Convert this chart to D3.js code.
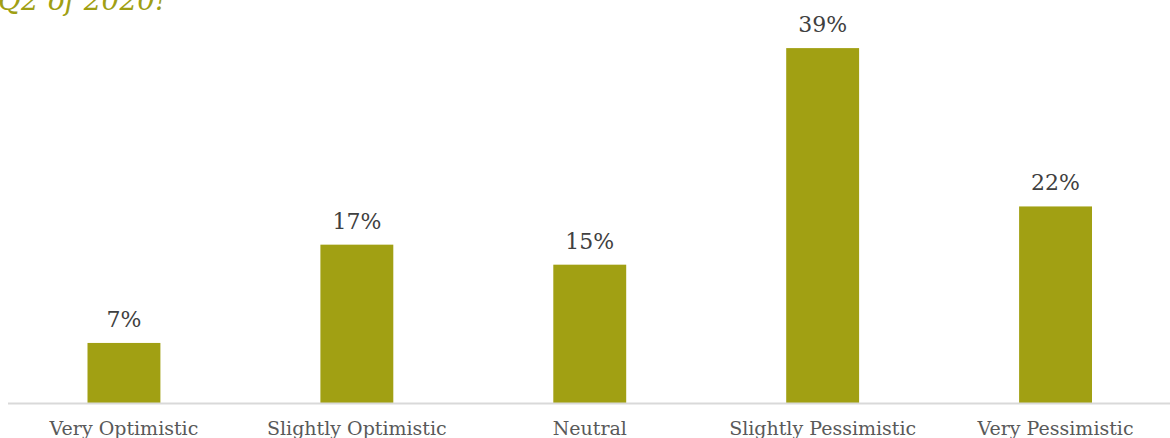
<!DOCTYPE html>
<html><head><meta charset="utf-8">
<script src="https://cdn.jsdelivr.net/npm/d3@7"></script>
<style>html,body{margin:0;padding:0;background:#fff;overflow:hidden}</style>
</head><body>
<svg id="chart" width="1170" height="438"></svg>
<script>
const categories = ["Very Optimistic","Slightly Optimistic","Neutral","Slightly Pessimistic","Very Pessimistic"];
const values = [6.6, 17.4, 15.2, 39.0, 21.6];
const valueLabels = ["7%","17%","15%","39%","22%"];
const titleText = "Q2 of 2020!";

const svg = d3.select("#chart");
const baseY = 403;
const x = d3.scaleBand().domain(categories).range([7.5, 1172]).paddingInner(0.687).paddingOuter(0.3435);
const y = d3.scaleLinear().domain([0, 40]).range([baseY, 39]);
const font = "'DejaVu Serif', Georgia, serif";

svg.append("text").attr("x", -2).attr("y", 10)
  .attr("font-family", font).attr("font-style", "italic").attr("font-size", 28)
  .attr("fill", "#a09f14").text(titleText);

svg.append("g").selectAll("rect").data(categories).join("rect")
  .attr("x", d => x(d)).attr("width", x.bandwidth())
  .attr("y", (d,i) => y(values[i])).attr("height", (d,i) => baseY - y(values[i]))
  .attr("fill", "#a1a013");

svg.append("line").attr("x1", 8).attr("x2", 1170).attr("y1", baseY + 0.5).attr("y2", baseY + 0.5)
  .attr("stroke", "#d9d9d9").attr("stroke-width", 2);

svg.append("g").selectAll("text").data(categories).join("text")
  .attr("x", d => x(d) + x.bandwidth()/2).attr("y", (d,i) => y(values[i]) - 16)
  .attr("text-anchor", "middle").attr("font-family", font).attr("font-size", 22)
  .attr("fill", "#404040").text((d,i) => valueLabels[i]);

const xAxis = d3.axisBottom(x).tickSize(0).tickPadding(0);
const gx = svg.append("g").attr("transform", `translate(0,${baseY})`).call(xAxis);
gx.select(".domain").remove();
gx.selectAll("text").attr("font-family", font).attr("font-size", 19).attr("fill", "#595959")
  .attr("dy", null).attr("y", 32);
</script>
</body></html>
